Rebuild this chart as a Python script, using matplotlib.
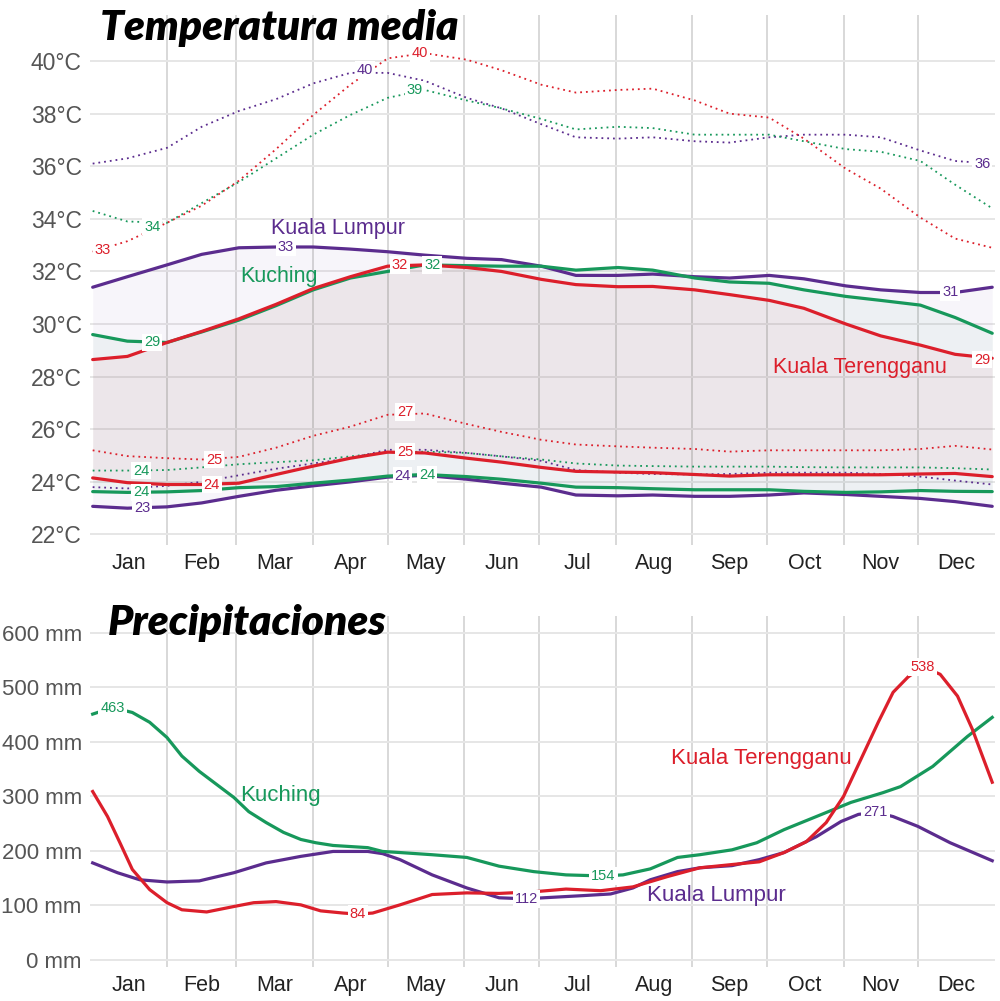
import matplotlib
matplotlib.use('Agg')
import matplotlib.pyplot as plt

# ---------------- data ----------------
months = ['Jan', 'Feb', 'Mar', 'Apr', 'May', 'Jun', 'Jul', 'Aug', 'Sep', 'Oct', 'Nov', 'Dec']
month_starts = [0, 31, 59, 90, 120, 151, 181, 212, 243, 273, 304, 334, 365]

cities = ['Kuala Lumpur', 'Kuching', 'Kuala Terengganu']
colors = {'Kuala Lumpur': '#5b2c8e', 'Kuching': '#17985b', 'Kuala Terengganu': '#dc1f2b'}

temp_days = [1, 15, 31, 45, 60, 75, 90, 105, 120, 135, 152, 166, 182, 196, 213, 227,
             244, 258, 274, 288, 305, 319, 335, 349, 364]

kl_high = [31.4, 31.8, 32.25, 32.65, 32.9, 32.93, 32.93, 32.85, 32.75, 32.62, 32.5, 32.45, 32.2,
           31.85, 31.85, 31.9, 31.8, 31.75, 31.85, 31.72, 31.45, 31.3, 31.2, 31.2, 31.4]
kl_low = [23.07, 23.0, 23.05, 23.2, 23.45, 23.68, 23.85, 24.0, 24.18, 24.25, 24.1, 23.95, 23.8,
          23.5, 23.47, 23.5, 23.45, 23.45, 23.5, 23.58, 23.52, 23.45, 23.37, 23.25, 23.07]
kl_rec_high = [36.1, 36.3, 36.7, 37.5, 38.1, 38.55, 39.15, 39.55, 39.55, 39.25, 38.6, 38.2, 37.6,
               37.1, 37.05, 37.1, 36.95, 36.9, 37.1, 37.2, 37.2, 37.1, 36.6, 36.2, 36.1]
kl_rec_low = [23.8, 23.75, 23.85, 24.0, 24.25, 24.5, 24.7, 24.9, 25.22, 25.22, 25.1, 24.97, 24.8,
              24.45, 24.35, 24.3, 24.28, 24.3, 24.35, 24.35, 24.35, 24.3, 24.2, 24.05, 23.9]

ku_high = [29.6, 29.35, 29.3, 29.7, 30.15, 30.7, 31.3, 31.75, 32.0, 32.25, 32.22, 32.2, 32.2,
           32.05, 32.15, 32.05, 31.75, 31.6, 31.55, 31.3, 31.05, 30.9, 30.72, 30.25, 29.65]
ku_low = [23.63, 23.6, 23.62, 23.67, 23.78, 23.82, 23.95, 24.07, 24.22, 24.28, 24.2, 24.1, 23.95,
          23.8, 23.78, 23.74, 23.7, 23.7, 23.7, 23.64, 23.6, 23.62, 23.67, 23.64, 23.63]
ku_rec_high = [34.3, 33.9, 33.85, 34.6, 35.4, 36.3, 37.2, 37.95, 38.6, 38.9, 38.5, 38.2, 37.8,
               37.4, 37.5, 37.45, 37.2, 37.2, 37.2, 36.95, 36.65, 36.55, 36.2, 35.3, 34.4]
ku_rec_low = [24.43, 24.43, 24.45, 24.55, 24.67, 24.75, 24.82, 24.97, 25.12, 25.15, 25.1, 24.97, 24.85,
              24.7, 24.62, 24.6, 24.58, 24.58, 24.58, 24.56, 24.55, 24.55, 24.55, 24.52, 24.47]

kt_high = [28.65, 28.77, 29.3, 29.72, 30.2, 30.75, 31.35, 31.8, 32.2, 32.25, 32.15, 32.0, 31.7,
           31.5, 31.42, 31.43, 31.3, 31.12, 30.9, 30.6, 30.0, 29.55, 29.2, 28.85, 28.7]
kt_low = [24.15, 23.97, 23.9, 23.9, 23.95, 24.28, 24.6, 24.9, 25.13, 25.1, 24.9, 24.75, 24.55,
          24.4, 24.37, 24.35, 24.28, 24.22, 24.27, 24.27, 24.27, 24.27, 24.3, 24.32, 24.2]
kt_rec_high = [32.75, 33.15, 33.85, 34.5, 35.45, 36.65, 37.95, 39.1, 40.1, 40.3, 40.05, 39.65, 39.1,
               38.8, 38.9, 38.95, 38.5, 38.0, 37.85, 37.05, 35.9, 35.15, 34.05, 33.25, 32.9]
kt_rec_low = [25.2, 24.98, 24.9, 24.85, 24.95, 25.3, 25.75, 26.1, 26.55, 26.6, 26.2, 25.9, 25.6,
              25.42, 25.35, 25.3, 25.25, 25.15, 25.2, 25.2, 25.2, 25.2, 25.25, 25.37, 25.23]

# precipitation
ku_rain_days = [1, 9, 17, 24, 31, 37, 44, 51, 58, 64, 71, 78, 85, 91, 98, 105, 112, 118, 125, 138,
                152, 165, 179, 192, 207, 215, 226, 237, 246, 259, 269, 280, 293, 307, 320, 327,
                340, 354, 364]
ku_rain = [451, 463, 454, 436, 408, 374, 346, 322, 298, 272, 252, 234, 221, 215, 210, 208, 206, 199,
           197, 193, 188, 172, 162, 156, 154, 156, 167, 188, 193, 202, 215, 239, 263, 289, 307,
           318, 355, 410, 445]
kt_rain_days = [1, 7, 12, 17, 24, 31, 37, 47, 58, 66, 75, 85, 93, 102, 108, 114, 125, 138, 152,
                165, 179, 192, 206, 219, 233, 246, 259, 270, 280, 289, 297, 304, 311, 318, 324,
                330, 336, 343, 350, 356, 364]
kt_rain = [309, 263, 215, 166, 129, 105, 92, 88, 98, 105, 107, 101, 90, 86, 84, 86, 101, 120, 123,
           122, 125, 130, 127, 134, 153, 169, 175, 180, 197, 217, 252, 300, 368, 436, 491, 519,
           538, 524, 484, 423, 326]
kl_rain_days = [1, 11, 20, 31, 44, 58, 71, 85, 98, 112, 118, 125, 138, 152, 165, 176, 183, 199,
                210, 219, 226, 237, 246, 259, 270, 280, 293, 303, 310, 317, 324, 334, 347, 364]
kl_rain = [178, 160, 147, 143, 145, 160, 178, 190, 199, 199, 195, 184, 156, 132, 114, 112, 114,
           118, 121, 132, 147, 162, 169, 173, 184, 197, 226, 254, 267, 271, 263, 245, 215, 182]

# inline value labels: (city, day, value, text)
temp_labels = [
    ('Kuala Lumpur', 79, 32.93, '33'), ('Kuala Lumpur', 347, 31.2, '31'),
    ('Kuala Lumpur', 21, 23.0, '23'), ('Kuala Lumpur', 126, 24.22, '24'),
    ('Kuala Lumpur', 111, 39.65, '40'), ('Kuala Lumpur', 360, 36.1, '36'),
    ('Kuching', 25, 29.3, '29'), ('Kuching', 138, 32.25, '32'),
    ('Kuching', 20.5, 23.6, '24'), ('Kuching', 136, 24.27, '24'),
    ('Kuching', 25, 33.7, '34'), ('Kuching', 131, 38.9, '39'),
    ('Kuching', 20.5, 24.43, '24'),
    ('Kuala Terengganu', 125, 32.25, '32'), ('Kuala Terengganu', 360, 28.65, '29'),
    ('Kuala Terengganu', 49, 23.9, '24'), ('Kuala Terengganu', 127, 25.15, '25'),
    ('Kuala Terengganu', 5, 32.8, '33'), ('Kuala Terengganu', 133, 40.3, '40'),
    ('Kuala Terengganu', 50, 24.85, '25'), ('Kuala Terengganu', 127, 26.65, '27'),
]
rain_labels = [
    ('Kuching', 9, 463, '463'), ('Kuala Terengganu', 108, 84, '84'),
    ('Kuala Lumpur', 176, 112, '112'), ('Kuching', 207, 154, '154'),
    ('Kuala Lumpur', 317, 271, '271'), ('Kuala Terengganu', 336, 538, '538'),
]
temp_names = [('Kuala Lumpur', 100, 33.62), ('Kuching', 76, 31.8), ('Kuala Terengganu', 310.5, 28.34)]
rain_names = [('Kuching', 76.6, 302), ('Kuala Terengganu', 270.7, 370), ('Kuala Lumpur', 252.5, 118)]

# ---------------- plotting ----------------
plt.rcParams['font.family'] = ['Liberation Sans', 'DejaVu Sans']

fig = plt.figure(figsize=(10, 10.01), dpi=100)
W, H = 1000, 1001
def axrect(l, t, r, b):
    return [l / W, 1 - b / H, (r - l) / W, (b - t) / H]

ax1 = fig.add_axes(axrect(90.2, 15, 994.7, 545))
ax2 = fig.add_axes(axrect(90.2, 616, 994.7, 967))

mid_month = [(month_starts[i] + month_starts[i + 1]) / 2 for i in range(12)]

for ax, ls in ((ax1, 16.5), (ax2, 16)):
    ax.set_xlim(0, 365)
    for s in ax.spines.values():
        s.set_visible(False)
    ax.set_xticks(mid_month)
    ax.set_xticklabels(months, fontsize=15.5, color='#222222')
    ax.set_xticks(month_starts[1:-1], minor=True)
    ax.tick_params(axis='both', which='both', length=0)
    ax.tick_params(axis='x', pad=6)
    ax.tick_params(axis='y', pad=6, labelsize=ls, labelcolor='#555555')
    ax.grid(True, which='minor', axis='x', color='#d2d2d2', lw=1.2)
    ax.grid(True, which='major', axis='y', color='#e6e6e6', lw=1.4)
    ax.grid(False, which='major', axis='x')
    ax.set_axisbelow(True)

# top panel
ax1.set_ylim(21.6, 41.75)
ax1.set_yticks(range(22, 41, 2))
ax1.set_yticklabels([f'{t}°C' for t in range(22, 41, 2)])

temp = {
    'Kuala Lumpur': (kl_high, kl_low, kl_rec_high, kl_rec_low),
    'Kuching': (ku_high, ku_low, ku_rec_high, ku_rec_low),
    'Kuala Terengganu': (kt_high, kt_low, kt_rec_high, kt_rec_low),
}
for c in cities:
    hi, lo, rhi, rlo = temp[c]
    col = colors[c]
    ax1.fill_between(temp_days, lo, hi, color=col, alpha=0.045, lw=0, zorder=1)
for c in cities:
    hi, lo, rhi, rlo = temp[c]
    col = colors[c]
    ax1.plot(temp_days, rhi, color=col, lw=1.3, ls=(0, (1, 2.2)), zorder=2)
    ax1.plot(temp_days, rlo, color=col, lw=1.3, ls=(0, (1, 2.2)), zorder=2)
    ax1.plot(temp_days, hi, color=col, lw=2.3, zorder=3, solid_capstyle='round')
    ax1.plot(temp_days, lo, color=col, lw=2.3, zorder=3, solid_capstyle='round')

for c, d, v, t in temp_labels:
    ax1.text(d, v, t, color=colors[c], fontsize=10.5, ha='center', va='center', zorder=6,
             bbox=dict(boxstyle='square,pad=0.12', fc='white', ec='none'))
for c, d, v in temp_names:
    ax1.text(d, v, c, color=colors[c], fontsize=15.5, ha='center', va='center', zorder=7)

# bottom panel
ax2.set_ylim(-13, 631)
ax2.set_yticks(range(0, 601, 100))
ax2.set_yticklabels([f'{p} mm' for p in range(0, 601, 100)])

rain = {
    'Kuala Lumpur': (kl_rain_days, kl_rain),
    'Kuching': (ku_rain_days, ku_rain),
    'Kuala Terengganu': (kt_rain_days, kt_rain),
}
for c in cities:
    d, v = rain[c]
    ax2.plot(d, v, color=colors[c], lw=2.3, zorder=3, solid_joinstyle='round')
for c, d, v, t in rain_labels:
    ax2.text(d, v, t, color=colors[c], fontsize=10.5, ha='center', va='center', zorder=6,
             bbox=dict(boxstyle='square,pad=0.15', fc='white', ec='none'))
for c, d, v in rain_names:
    ax2.text(d, v, c, color=colors[c], fontsize=16, ha='center', va='center', zorder=7)

# titles
fig.text(100 / W, 1 - 28 / H, 'Temperatura media', fontsize=30.5, fontweight='heavy',
         fontstyle='italic', family=['Lato', 'DejaVu Sans'], ha='left', va='center', color='black')
fig.text(108 / W, 1 - 623 / H, 'Precipitaciones', fontsize=30.5, fontweight='heavy',
         fontstyle='italic', family=['Lato', 'DejaVu Sans'], ha='left', va='center', color='black')

fig.savefig('out.png', dpi=100, facecolor='white')
